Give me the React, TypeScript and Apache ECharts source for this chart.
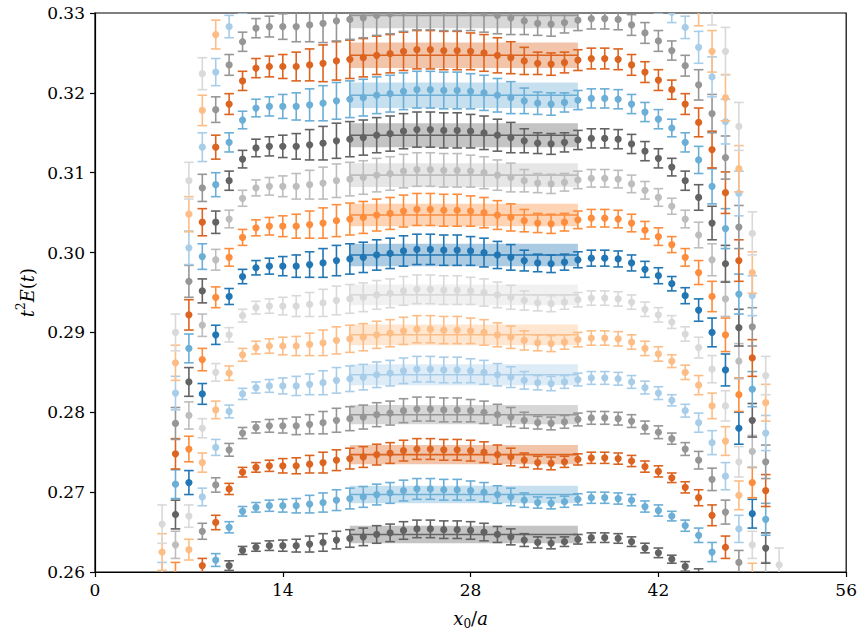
import React, { useEffect, useRef } from "react";
import * as echarts from "echarts";

// x0/a positions of the points
const X0 = [5,6,7,8,9,10,11,12,13,14,15,16,17,18,19,20,21,22,23,24,25,26,27,28,29,30,31,32,33,34,35,36,37,38,39,40,41,42,43,44,45,46,47,48,49,50,51];

// t^2 E(t) per series (null = outside the visible window)
const S0 = [null,null,null,null,null,0.2608,0.2627,0.2631,0.2633,0.2633,0.2633,0.2635,0.2637,0.2640,0.2642,0.2644,0.2647,0.2649,0.2652,0.2654,0.2654,0.2653,0.2653,0.2652,0.2650,0.2647,0.2644,0.2640,0.2637,0.2636,0.2638,0.2641,0.2643,0.2643,0.2642,0.2638,0.2630,0.2624,0.2616,0.2607,0.2596,0.2578,null,null,null,null,null];
const S1 = [null,null,null,null,0.2615,0.2656,0.2676,0.2681,0.2683,0.2683,0.2683,0.2685,0.2687,0.2690,0.2692,0.2694,0.2697,0.2699,0.2702,0.2704,0.2704,0.2703,0.2703,0.2702,0.2700,0.2697,0.2694,0.2690,0.2687,0.2686,0.2688,0.2691,0.2693,0.2693,0.2692,0.2690,0.2682,0.2677,0.2670,0.2658,0.2646,0.2625,0.2586,null,null,null,null];
const S2 = [null,null,null,0.2608,0.2662,0.2704,0.2725,0.2731,0.2733,0.2733,0.2733,0.2735,0.2737,0.2740,0.2742,0.2744,0.2747,0.2749,0.2752,0.2754,0.2754,0.2753,0.2753,0.2752,0.2750,0.2747,0.2744,0.2740,0.2737,0.2736,0.2738,0.2741,0.2743,0.2743,0.2742,0.2739,0.2732,0.2726,0.2718,0.2706,0.2693,0.2671,0.2631,0.2570,null,null,null];
const S3 = [null,null,null,0.2651,0.2709,0.2753,0.2774,0.2781,0.2783,0.2783,0.2783,0.2785,0.2787,0.2790,0.2792,0.2794,0.2797,0.2799,0.2802,0.2804,0.2804,0.2803,0.2803,0.2802,0.2800,0.2797,0.2794,0.2790,0.2787,0.2786,0.2788,0.2791,0.2793,0.2793,0.2792,0.2789,0.2781,0.2775,0.2767,0.2754,0.2740,0.2716,0.2675,0.2612,null,null,null];
const S4 = [null,null,0.2586,0.2694,0.2756,0.2801,0.2823,0.2831,0.2833,0.2833,0.2833,0.2835,0.2837,0.2840,0.2842,0.2844,0.2847,0.2849,0.2852,0.2854,0.2854,0.2853,0.2853,0.2852,0.2850,0.2847,0.2844,0.2840,0.2837,0.2836,0.2838,0.2841,0.2843,0.2843,0.2842,0.2838,0.2831,0.2824,0.2815,0.2802,0.2787,0.2762,0.2720,0.2654,null,null,null];
const S5 = [null,null,0.2628,0.2737,0.2803,0.2849,0.2872,0.2881,0.2883,0.2883,0.2883,0.2885,0.2887,0.2890,0.2892,0.2894,0.2897,0.2899,0.2902,0.2904,0.2904,0.2903,0.2903,0.2902,0.2900,0.2897,0.2894,0.2890,0.2887,0.2886,0.2888,0.2891,0.2893,0.2893,0.2892,0.2888,0.2880,0.2873,0.2864,0.2850,0.2834,0.2808,0.2764,0.2696,0.2595,null,null];
const S6 = [null,null,0.2670,0.2780,0.2850,0.2897,0.2921,0.2931,0.2933,0.2933,0.2933,0.2935,0.2937,0.2940,0.2942,0.2944,0.2947,0.2949,0.2952,0.2954,0.2954,0.2953,0.2953,0.2952,0.2950,0.2947,0.2944,0.2940,0.2937,0.2936,0.2938,0.2941,0.2943,0.2943,0.2942,0.2938,0.2929,0.2922,0.2913,0.2898,0.2881,0.2854,0.2808,0.2738,0.2634,null,null];
const S7 = [null,null,0.2712,0.2823,0.2897,0.2945,0.2970,0.2981,0.2983,0.2983,0.2983,0.2985,0.2987,0.2990,0.2992,0.2994,0.2997,0.2999,0.3002,0.3004,0.3004,0.3003,0.3003,0.3002,0.3000,0.2997,0.2994,0.2990,0.2987,0.2986,0.2988,0.2991,0.2993,0.2993,0.2992,0.2987,0.2979,0.2971,0.2961,0.2946,0.2928,0.2900,0.2853,0.2780,0.2673,null,null];
const S8 = [null,0.2596,0.2754,0.2866,0.2944,0.2994,0.3019,0.3031,0.3033,0.3033,0.3033,0.3035,0.3037,0.3040,0.3042,0.3044,0.3047,0.3049,0.3052,0.3054,0.3054,0.3053,0.3053,0.3052,0.3050,0.3047,0.3044,0.3040,0.3037,0.3036,0.3038,0.3041,0.3043,0.3043,0.3042,0.3037,0.3028,0.3020,0.3010,0.2994,0.2975,0.2945,0.2897,0.2822,0.2712,null,null];
const S9 = [null,0.2634,0.2796,0.2909,0.2991,0.3042,0.3068,0.3081,0.3083,0.3083,0.3083,0.3085,0.3087,0.3090,0.3092,0.3094,0.3097,0.3099,0.3102,0.3104,0.3104,0.3103,0.3103,0.3102,0.3100,0.3097,0.3094,0.3090,0.3087,0.3086,0.3088,0.3091,0.3093,0.3093,0.3092,0.3086,0.3078,0.3069,0.3058,0.3042,0.3022,0.2991,0.2942,0.2864,0.2751,0.2594,null];
const S10 = [null,0.2672,0.2838,0.2952,0.3038,0.3090,0.3117,0.3131,0.3133,0.3133,0.3133,0.3135,0.3137,0.3140,0.3142,0.3144,0.3147,0.3149,0.3152,0.3154,0.3154,0.3153,0.3153,0.3152,0.3150,0.3147,0.3144,0.3140,0.3137,0.3136,0.3138,0.3141,0.3143,0.3143,0.3142,0.3136,0.3127,0.3118,0.3107,0.3090,0.3069,0.3037,0.2986,0.2906,0.2790,0.2630,null];
const S11 = [null,0.2710,0.2880,0.2995,0.3085,0.3138,0.3166,0.3181,0.3183,0.3183,0.3183,0.3185,0.3187,0.3190,0.3192,0.3194,0.3197,0.3199,0.3202,0.3204,0.3204,0.3203,0.3203,0.3202,0.3200,0.3197,0.3194,0.3190,0.3187,0.3186,0.3188,0.3191,0.3193,0.3193,0.3192,0.3186,0.3176,0.3167,0.3156,0.3138,0.3116,0.3083,0.3030,0.2948,0.2829,0.2666,null];
const S12 = [null,0.2748,0.2922,0.3038,0.3132,0.3186,0.3215,0.3231,0.3233,0.3233,0.3233,0.3235,0.3237,0.3240,0.3242,0.3244,0.3247,0.3249,0.3252,0.3254,0.3254,0.3253,0.3253,0.3252,0.3250,0.3247,0.3244,0.3240,0.3237,0.3236,0.3238,0.3241,0.3243,0.3243,0.3242,0.3235,0.3226,0.3216,0.3204,0.3186,0.3163,0.3129,0.3075,0.2990,0.2868,0.2702,null];
const S13 = [null,0.2786,0.2964,0.3081,0.3179,0.3235,0.3264,0.3281,0.3283,0.3283,0.3283,0.3285,0.3287,0.3290,0.3292,0.3294,0.3297,0.3299,0.3302,0.3304,0.3304,0.3303,0.3303,0.3302,0.3300,0.3297,0.3294,0.3290,0.3287,0.3286,0.3288,0.3291,0.3293,0.3293,0.3292,0.3285,0.3275,0.3265,0.3253,0.3234,0.3210,0.3174,0.3119,0.3032,0.2907,0.2738,null];
const S14 = [0.2590,0.2824,0.3006,0.3132,0.3226,0.3283,0.3313,null,null,null,null,null,null,null,null,null,null,null,null,null,null,null,null,null,null,null,null,null,null,null,null,null,null,null,null,null,null,0.3314,0.3301,0.3282,0.3257,0.3220,0.3164,0.3074,0.2946,0.2774,null];
const S15 = [0.2625,0.2862,0.3048,0.3178,0.3273,null,null,null,null,null,null,null,null,null,null,null,null,null,null,null,null,null,null,null,null,null,null,null,null,null,null,null,null,null,null,null,null,null,null,null,0.3304,0.3252,0.3194,0.3105,0.2975,0.2812,0.2577];
const S16 = [0.2660,0.2900,0.3090,0.3224,0.3320,null,null,null,null,null,null,null,null,null,null,null,null,null,null,null,null,null,null,null,null,null,null,null,null,null,null,null,null,null,null,null,null,null,null,null,null,0.3312,0.3252,0.3158,0.3024,0.2846,0.2609];

// error bars, in units of 1e-4
const ERR_UNIT = 0.0001;
const E0 = [10,9,9,8,7,6,5,5,6,7,8,10,11,11,11,11,11,11,11,11,11,11,11,11,11,10,10,8,7,7,6,6,6,6,6,6,6,6,5,6,8,11,12,12,11,10,8];
const E1 = [11,10,10,9,8,7,6,6,7,8,9,11,12,13,13,13,13,13,13,13,13,13,13,12,12,11,11,9,7,7,7,7,7,7,7,7,7,7,6,7,9,12,13,13,12,11,9];
const E2 = [11,11,11,9,9,7,6,6,7,9,10,11,13,13,13,13,13,13,13,13,13,13,13,13,13,12,11,9,8,8,7,7,7,7,7,7,7,7,6,7,10,13,14,14,13,11,10];
const E3 = [12,12,12,10,9,8,7,7,8,9,11,12,14,15,15,15,15,15,15,15,15,15,15,14,14,13,12,10,8,8,8,8,8,8,8,8,8,8,7,8,11,14,15,15,14,12,11];
const E4 = [13,12,12,11,10,8,7,7,8,10,12,13,15,16,16,16,16,16,16,16,16,16,16,15,15,14,13,11,9,9,8,8,8,8,8,8,8,8,7,8,12,15,17,17,15,13,12];
const E5 = [14,13,13,12,11,9,8,8,9,11,12,14,16,17,17,17,17,17,17,17,17,17,17,16,16,15,14,12,10,10,9,9,9,9,9,9,9,9,8,9,12,16,18,18,16,14,12];
const E6 = [15,14,14,12,11,9,8,8,9,11,13,15,17,18,18,18,18,18,18,18,18,18,18,17,17,16,15,12,10,10,9,9,9,9,9,9,9,9,8,9,13,17,19,19,17,15,13];
const E7 = [16,15,15,13,12,10,9,9,10,12,14,16,18,19,19,19,19,19,19,19,19,19,19,18,18,17,16,13,11,11,10,10,10,10,10,10,10,10,9,10,14,18,20,20,18,16,14];
const E8 = [17,16,16,14,13,11,10,10,11,13,15,17,19,20,20,20,20,20,20,20,20,20,20,19,19,18,17,14,12,12,11,11,11,11,11,11,11,11,10,11,15,19,21,21,19,17,15];
const E9 = [18,17,17,14,13,11,10,10,11,13,16,18,20,21,21,21,21,21,21,21,21,21,21,20,20,19,18,14,12,12,11,11,11,11,11,11,11,11,10,11,16,20,22,22,20,18,16];
const E10 = [19,18,18,15,14,12,11,11,12,14,16,19,21,22,22,22,22,22,22,22,22,22,22,21,21,20,19,15,13,13,12,12,12,12,12,12,12,12,11,12,16,21,23,23,21,19,16];
const E11 = [20,18,18,16,15,12,11,11,12,15,17,20,22,23,23,23,23,23,23,23,23,23,23,22,22,21,20,16,14,14,12,12,12,12,12,12,12,12,11,12,17,22,25,25,22,20,17];
const E12 = [20,19,19,17,15,13,12,12,13,15,18,20,23,24,24,24,24,24,24,24,24,24,24,23,23,22,20,17,14,14,13,13,13,13,13,13,13,13,12,13,18,23,26,26,23,20,18];
const E13 = [21,20,20,17,16,13,12,12,13,16,19,21,24,25,25,25,25,25,25,25,25,25,25,24,24,23,21,17,15,15,13,13,13,13,13,13,13,13,12,13,19,24,27,27,24,21,19];
const E14 = [22,21,21,18,17,14,13,13,14,17,20,22,25,27,27,27,27,27,27,27,27,27,27,25,25,24,22,18,15,15,14,14,14,14,14,14,14,14,13,14,20,25,28,28,25,22,20];
const E15 = [23,22,22,19,18,15,13,13,15,18,20,23,26,28,28,28,28,28,28,28,28,28,28,26,26,25,23,19,16,16,15,15,15,15,15,15,15,15,13,15,20,26,29,29,26,23,20];
const E16 = [24,23,23,20,18,15,14,14,15,18,21,24,27,29,29,29,29,29,29,29,29,29,29,27,27,26,24,20,17,17,15,15,15,15,15,15,15,15,14,15,21,27,30,30,27,24,21];

// plateau fits (bands)
const BAND_X = [19, 36];
const BAND_CENTER = [0.2647,0.2697,0.2747,0.2797,0.2847,0.2897,0.2947,0.2997,0.3047,0.3097,0.3147,0.3197,0.3247,0.3297,0.3347,0.3397,0.3447];
const BAND_HALF = [0.0011,0.0011,0.0012,0.0012,0.0013,0.0013,0.0013,0.0014,0.0014,0.0015,0.0015,0.0016,0.0016,0.0016,0.0017,0.0017,0.0018];

const SERIES_VALUES = [S0,S1,S2,S3,S4,S5,S6,S7,S8,S9,S10,S11,S12,S13,S14,S15,S16];
const SERIES_ERRORS = [E0,E1,E2,E3,E4,E5,E6,E7,E8,E9,E10,E11,E12,E13,E14,E15,E16];

const SERIES_COLORS = [
  "#636363","#6baed6","#dc6420","#969696","#a8cde9","#fdbd86","#d9d9d9","#2176b3","#fd8d3c","#bdbdbd",
  "#636363","#6baed6","#dc6420","#969696","#a8cde9","#fdbd86","#d9d9d9",
];

const FONT = "DejaVu Serif";

export default function App() {
  const ref = useRef<HTMLDivElement>(null);
  useEffect(() => {
    if (!ref.current) return;
    const chart = echarts.init(ref.current, null, { renderer: "svg" });

    const bandData = BAND_CENTER.map((c, k) => [BAND_X[0], BAND_X[1], c, BAND_HALF[k], k]);

    const series: any[] = [
      {
        type: "custom",
        name: "bands",
        clip: true,
        z: 1,
        silent: true,
        encode: { x: [0, 1], y: [2] },
        data: bandData,
        renderItem: (params: any, api: any) => {
          const x0 = api.value(0), x1 = api.value(1), c = api.value(2), h = api.value(3), k = api.value(4);
          const tl = api.coord([x0, c + h]);
          const br = api.coord([x1, c - h]);
          const mid = api.coord([x0, c]);
          const color = SERIES_COLORS[k];
          return {
            type: "group",
            children: [
              { type: "rect", shape: { x: tl[0], y: tl[1], width: br[0] - tl[0], height: br[1] - tl[1] }, style: { fill: color, opacity: 0.38 } },
              { type: "line", shape: { x1: tl[0], y1: mid[1], x2: br[0], y2: mid[1] }, style: { stroke: color, lineWidth: 1.6 } },
            ],
          };
        },
      },
    ];

    SERIES_VALUES.forEach((vals, k) => {
      const errs = SERIES_ERRORS[k];
      const data: number[][] = [];
      vals.forEach((v, i) => {
        if (v !== null) data.push([X0[i], v as number, errs[i] * ERR_UNIT]);
      });
      const color = SERIES_COLORS[k];
      series.push({
        type: "custom",
        name: "s" + k,
        clip: true,
        z: 2,
        silent: true,
        encode: { x: 0, y: 1 },
        data,
        renderItem: (params: any, api: any) => {
          const x = api.value(0), y = api.value(1), e = api.value(2);
          const c = api.coord([x, y]);
          const hi = api.coord([x, y + e]);
          const lo = api.coord([x, y - e]);
          const cap = 4.8;
          const ls = { stroke: color, lineWidth: 1.6 };
          return {
            type: "group",
            children: [
              { type: "line", shape: { x1: c[0], y1: hi[1], x2: c[0], y2: lo[1] }, style: ls },
              { type: "line", shape: { x1: c[0] - cap, y1: hi[1], x2: c[0] + cap, y2: hi[1] }, style: ls },
              { type: "line", shape: { x1: c[0] - cap, y1: lo[1], x2: c[0] + cap, y2: lo[1] }, style: ls },
              { type: "circle", shape: { cx: c[0], cy: c[1], r: 3.6 }, style: { fill: color } },
            ],
          };
        },
      });
    });

    const rich = (sub: boolean) => ({
      i: { fontFamily: FONT, fontSize: 18, color: "#000", lineHeight: 24, fontStyle: "italic" },
      n: { fontFamily: FONT, fontSize: 18, color: "#000", lineHeight: 24 },
      s: { fontFamily: FONT, fontSize: 12, color: "#000", lineHeight: 13, verticalAlign: sub ? "bottom" : "top" },
    });

    chart.setOption({
      animation: false,
      textStyle: { fontFamily: FONT },
      grid: { left: 95, top: 13, width: 752, height: 559, show: true, borderColor: "#000", borderWidth: 1.2, backgroundColor: "transparent" },
      xAxis: {
        type: "value", min: 0, max: 56, interval: 14,
        axisLine: { show: true, onZero: false, lineStyle: { color: "#000", width: 1.2 } },
        axisTick: { show: true, inside: false, length: 5, lineStyle: { color: "#000", width: 1.2 } },
        axisLabel: { color: "#000", fontFamily: FONT, fontSize: 17, margin: 9 },
        splitLine: { show: false },
        name: "{i|x}{s|0}{n|/}{i|a}",
        nameLocation: "middle",
        nameGap: 34,
        nameTextStyle: { fontFamily: FONT, rich: rich(true) },
      },
      yAxis: {
        type: "value", min: 0.26, max: 0.33, interval: 0.01,
        axisLine: { show: true, onZero: false, lineStyle: { color: "#000", width: 1.2 } },
        axisTick: { show: true, inside: false, length: 5, lineStyle: { color: "#000", width: 1.2 } },
        axisLabel: { color: "#000", fontFamily: FONT, fontSize: 17, margin: 10, formatter: (v: number) => v.toFixed(2) },
        splitLine: { show: false },
        name: "{i|t}{s|2}{i|E}{n|(}{i|t}{n|)}",
        nameLocation: "middle",
        nameRotate: 90,
        nameGap: 56,
        nameTextStyle: { fontFamily: FONT, rich: rich(false) },
      },
      series,
    });

    return () => {
      chart.dispose();
    };
  }, []);

  return <div ref={ref} style={{ position: "fixed", left: 0, top: 0, width: 860, height: 640, background: "#fff" }} />;
}
